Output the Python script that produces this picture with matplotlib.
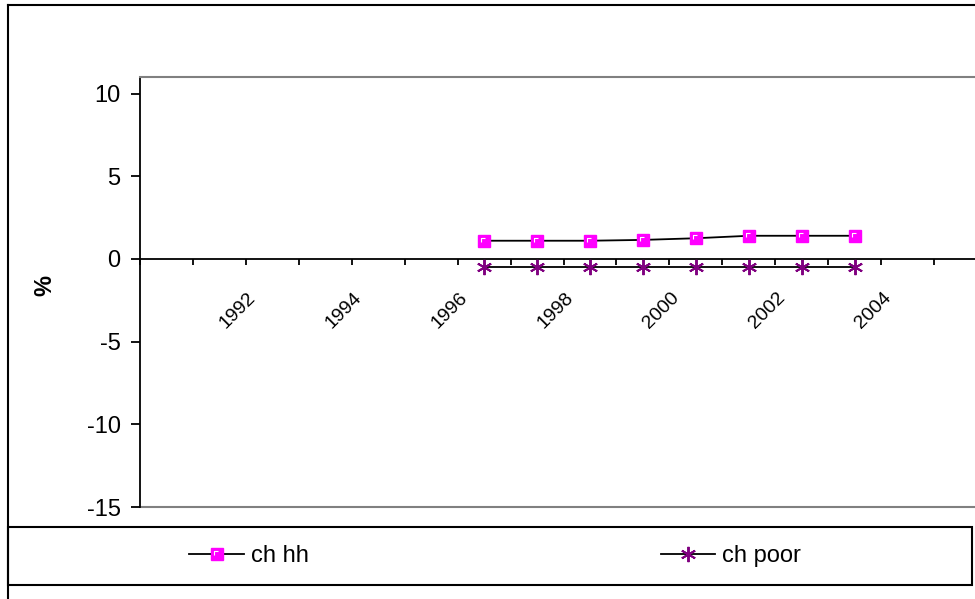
import numpy as np
import matplotlib
matplotlib.use("Agg")
from matplotlib import pyplot as plt
from matplotlib.lines import Line2D
from matplotlib.path import Path
from matplotlib.patches import Rectangle
from matplotlib.transforms import ScaledTranslation

plt.rcParams['font.family'] = ['Liberation Sans', 'DejaVu Sans']

# categories on the x axis
years = [1990, 1991, 1992, 1993, 1994, 1995, 1996, 1997,
         1998, 1999, 2000, 2001, 2002, 2003, 2004, 2005]
label_years = [1992, 1994, 1996, 1998, 2000, 2002, 2004]

# series (percent)
data_years = [1996, 1997, 1998, 1999, 2000, 2001, 2002, 2003]
ch_hh = [1.1, 1.1, 1.1, 1.15, 1.25, 1.4, 1.4, 1.4]
ch_poor = [-0.5, -0.5, -0.5, -0.5, -0.5, -0.5, -0.5, -0.5]

y_ticks = [-15, -10, -5, 0, 5, 10]

W, H = 975, 599
fig = plt.figure(figsize=(W / 100, H / 100), dpi=100)

# plot area runs past the right edge of the canvas
x0, x1, ytop, ybot = 140, 987, 77, 507
ax = fig.add_axes([x0 / W, 1 - ybot / H, (x1 - x0) / W, (ybot - ytop) / H])

xpos = [years.index(y) for y in data_years]

# square marker with the little white corner highlight
corner = Path([(-1, -1), (1, 1), (-0.55, -0.15), (-0.55, 0.55), (0.15, 0.55)],
              [Path.MOVETO, Path.MOVETO, Path.MOVETO, Path.LINETO, Path.LINETO])

l_hh, = ax.plot(xpos, ch_hh, color='black', lw=1.3, marker='s', ms=8.5,
                mfc='#ff00ff', mec='#ff00ff', zorder=3)
l_hh2, = ax.plot(xpos, ch_hh, ls='none', marker=corner, ms=8.5,
                 mfc='none', mec='white', mew=0.8, zorder=4)
l_poor, = ax.plot(xpos, ch_poor, color='black', lw=1.3, marker=(6, 2, 0), ms=11,
                  mec='#800080', mew=1.4, zorder=3)

ax.set_xlim(-0.5, len(years) - 0.5)
ax.set_ylim(-15, 11)
ax.set_yticks(y_ticks)
ax.set_yticklabels([str(v) for v in y_ticks])

# category axis crosses at zero
ax.spines['bottom'].set_position(('data', 0))
ax.spines['bottom'].set_linewidth(1.3)
ax.spines['left'].set_linewidth(1.3)
for s in ('top', 'right'):
    ax.spines[s].set_color('#808080')
    ax.spines[s].set_linewidth(1.5)
ax.plot([0, 1], [0, 0], transform=ax.transAxes, color='#808080', lw=1.5,
        clip_on=False, zorder=1)

ax.set_xticks(np.arange(len(years) + 1) - 0.5, minor=True)
ax.set_xticks([years.index(y) for y in label_years])
ax.set_xticklabels([str(y) for y in label_years], rotation=45, ha='right',
                   va='center', rotation_mode='anchor', fontsize=14)
ax.tick_params(axis='x', which='major', length=0, pad=26)
ax.tick_params(axis='x', which='minor', length=4, width=1.3, direction='out')
ax.tick_params(axis='y', length=6.5, width=1.3, pad=7.5, labelsize=17)
shift = ScaledTranslation(-19 / 100, 0, fig.dpi_scale_trans)
for lab in ax.get_xticklabels():
    lab.set_transform(lab.get_transform() + shift)

fig.text(45 / W, 1 - 285 / H, '%', rotation=90, fontsize=17, fontweight='bold',
         ha='center', va='center')

# outer chart frame (clipped on right and bottom)
fig.add_artist(Line2D([8 / W, 1], [1 - 5 / H, 1 - 5 / H], color='black', lw=1.5,
                      transform=fig.transFigure))
fig.add_artist(Line2D([8 / W, 8 / W], [0, 1 - 5 / H], color='black', lw=1.5,
                      transform=fig.transFigure))

# legend box
fig.add_artist(Rectangle((8 / W, 1 - 585 / H), (972 - 8) / W, (585 - 527) / H,
                         fill=False, ec='black', lw=1.5, transform=fig.transFigure))

leg_kw = dict(loc='center', frameon=False, fontsize=17, handlelength=2.3,
              handletextpad=0.3, borderpad=0, borderaxespad=0)
leg1 = fig.legend([(l_hh, l_hh2)], ['ch hh'],
                  bbox_to_anchor=(249 / W, 1 - 556 / H), **leg_kw)
leg2 = fig.legend([l_poor], ['ch poor'],
                  bbox_to_anchor=(731 / W, 1 - 556 / H), **leg_kw)

fig.savefig('out.png', dpi=100)
